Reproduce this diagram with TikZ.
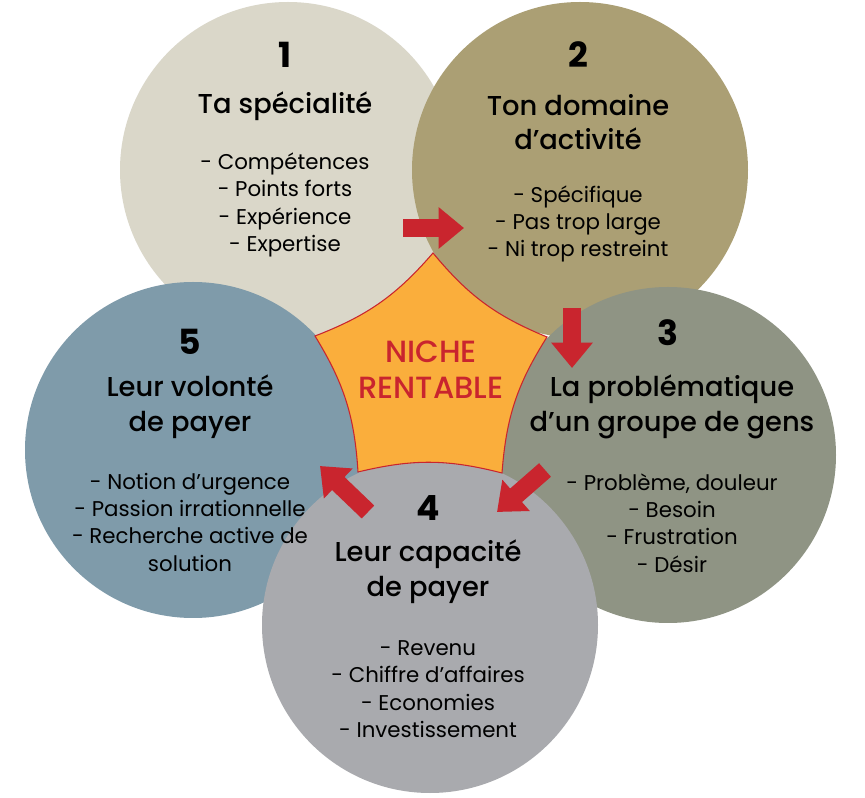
\documentclass[tikz,border=0pt]{standalone}
\usepackage{fontspec}
\setmainfont{Poppins}
\newfontfamily\medfont{Poppins Medium}
\usetikzlibrary{arrows.meta}
\definecolor{cA}{HTML}{DAD7C9}
\definecolor{cB}{HTML}{AB9F74}
\definecolor{cC}{HTML}{8F9484}
\definecolor{cD}{HTML}{A9AAAE}
\definecolor{cE}{HTML}{7F9BAA}
\definecolor{rd}{HTML}{C9252E}
\definecolor{orng}{HTML}{FAAE3C}
\tikzset{
 circ/.style={draw=none,circle,minimum size=336*0.75pt,inner sep=0},
 num/.style={font=\fontsize{26}{30}\selectfont\bfseries},
 ttl/.style={font=\medfont\fontsize{20.5}{26}\selectfont,align=center},
 lst/.style={font=\fontsize{16}{20.5}\selectfont,align=center},
 barrow/.style={draw=rd,line width=13.5pt,-{Triangle[length=19pt,width=30pt]},shorten >=0pt}
}
\begin{document}
\begin{tikzpicture}[x=0.75pt,y=-0.75pt]
\useasboundingbox (0,0) rectangle (865,798);
\fill[white] (0,0) rectangle (865,798);
\node[circ,fill=cA] (c1) at (288,170) {};
\node[circ,fill=cB] (c2) at (580,170) {};
\node[circ,fill=cC] (c3) at (668,455) {};
\node[circ,fill=cE] (c5) at (193,450) {};
\node[circ,fill=cD] (c4) at (430,625) {};
\draw[draw=rd,line width=0.8pt,fill=orng]
 (433,253) to[bend right=14] (547,337) to[bend right=14] (502,473)
 to[bend right=14] (358,472) to[bend right=14] (315,336) to[bend right=14] cycle;
\node[font=\medfont\fontsize{23}{27}\selectfont,text=rd,align=center] (niche) at (431,370) {NICHE\\RENTABLE};
% circle 1
\node[num] (n1) at (285,55) {1};
\node[ttl] (t1) at (285,106) {Ta spécialité};
\node[lst] (l1) at (285,205) {- Compétences\\- Points forts\\- Expérience\\- Expertise};
% circle 2
\node[num] (n2) at (578,55) {2};
\node[ttl] (t2) at (578,122) {Ton domaine\\d’activité};
\node[lst] (l2) at (578,224) {- Spécifique\\- Pas trop large\\- Ni trop restreint};
% circle 3
\node[num] (n3) at (668,333) {3};
\node[ttl] (t3) at (672,407) {La problématique\\d’un groupe de gens};
\node[lst] (l3) at (672,523) {- Problème, douleur\\- Besoin\\- Frustration\\- Désir};
% circle 4
\node[num] (n4) at (428,508) {4};
\node[ttl] (t4) at (428,572) {Leur capacité\\de payer};
\node[lst] (l4) at (428,689) {- Revenu\\- Chiffre d’affaires\\- Economies\\- Investissement};
% circle 5
\node[num] (n5) at (190,342) {5};
\node[ttl] (t5) at (190,407) {Leur volonté\\de payer};
\node[lst] (l5) at (190,522) {- Notion d’urgence\\- Passion irrationnelle\\- Recherche active de\\solution};
% arrows
\coordinate (a1s) at (403,228); \coordinate (a1e) at (464,228);
\coordinate (a2s) at (572,308); \coordinate (a2e) at (572,368);
\coordinate (a3s) at (545,470); \coordinate (a3e) at (497,512);
\coordinate (a4s) at (368,512); \coordinate (a4e) at (320,466);
\draw[barrow] (a1s) -- (a1e);
\draw[barrow] (a2s) -- (a2e);
\draw[barrow] (a3s) -- (a3e);
\draw[barrow] (a4s) -- (a4e);
\end{tikzpicture}
\end{document}
